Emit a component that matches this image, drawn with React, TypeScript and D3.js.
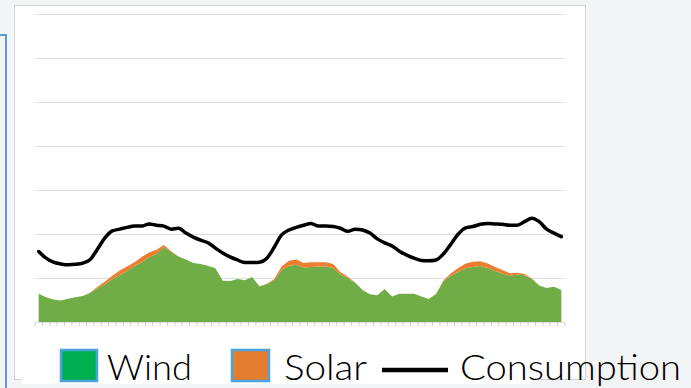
import React from "react";
import * as d3 from "d3";

const consumption = [16.0,14.5,13.6,13.2,13.0,13.1,13.4,14.2,16.6,19.1,20.7,21.1,21.5,21.8,21.8,22.3,22.0,21.8,21.1,21.3,20.2,19.3,18.6,18.0,16.8,15.7,14.8,14.1,13.5,13.5,13.6,14.5,17.0,19.8,20.9,21.5,22.0,22.4,21.8,21.8,21.7,21.3,20.6,21.1,20.9,20.2,18.9,18.0,17.3,16.1,15.2,14.5,14.0,13.9,14.1,15.5,17.7,20.0,21.4,21.7,22.2,22.4,22.3,22.2,22.0,22.0,22.8,23.6,22.8,21.1,20.2,19.4];
const wind = [6.4,5.6,5.1,4.9,5.3,5.6,5.9,6.6,7.7,8.6,9.7,10.7,11.6,12.7,13.6,14.7,15.5,17.0,15.9,14.9,14.2,13.4,13.2,12.8,12.2,9.4,9.3,9.8,9.5,10.2,8.1,8.6,9.5,11.8,12.8,13.0,12.4,12.5,12.6,12.6,12.3,10.8,10.0,8.9,7.3,6.3,6.1,7.5,5.8,6.4,6.4,6.4,5.8,5.2,6.4,9.3,10.5,11.4,12.2,12.5,12.7,12.3,11.6,11.0,10.5,10.8,10.6,9.8,8.3,7.7,8.0,7.3];
const solar = [0,0,0,0,0,0,0,0.1,0.3,0.6,0.8,1.0,1.0,0.9,1.2,1.1,0.9,0.5,0.2,0,0,0,0,0,0,0,0,0,0,0,0,0.1,0.3,0.8,1.1,1.2,1.0,1.1,1.0,1.0,0.9,0.5,0.3,0.1,0,0,0,0,0,0,0,0,0,0,0,0.2,0.6,0.9,1.1,1.2,1.1,1.0,0.9,0.8,0.6,0.4,0.3,0.1,0,0,0,0];
const yTicks = [0,10,20,30,40,50,60,70];
const legendLabels = ["Wind", "Solar", "Consumption"];

export default function App() {
  const W = 691, H = 388;
  const idx = consumption.map((_, i) => i);
  const x = d3.scaleBand<number>().domain(idx).range([35, 565]).padding(0);
  const bw = x.bandwidth();
  const cx = (i: number) => (x(i) as number) + bw / 2;
  const y = d3.scaleLinear().domain([0, 70]).range([322, 14]);

  const rows = idx.map(i => ({ i, wind: wind[i], solar: solar[i] }));
  const stack = d3.stack<any>().keys(["wind", "solar"])(rows);
  const area = d3.area<any>()
    .x((d: any) => cx(d.data.i))
    .y0((d: any) => y(d[0]))
    .y1((d: any) => y(d[1]))
    .curve(d3.curveLinear);
  const line = d3.line<number>()
    .x((_, i) => cx(i))
    .y(d => y(d))
    .curve(d3.curveMonotoneX);

  const tickXs = d3.range(idx.length + 1).map(i => 35 + i * bw);
  const areaColors = ["#70ad47", "#ed7d31"];

  return (
    <svg width={W} height={H} style={{ position: "absolute", left: 0, top: 0, display: "block" }}>
      <rect x={0} y={0} width={W} height={H} fill="#f3f4f6" />
      <path d="M0,35 H6 V388" fill="none" stroke="#5b9bd5" strokeWidth={2} />
      <rect x={14.5} y={5.5} width={571} height={374} fill="#ffffff" stroke="#d4d4d4" strokeWidth={1} />
      {yTicks.map(t => (
        <line key={t} x1={35} x2={565} y1={Math.round(y(t)) + 0.5} y2={Math.round(y(t)) + 0.5} stroke="#dedede" strokeWidth={1} />
      ))}
      {tickXs.map((tx, i) => (
        <line key={i} x1={tx} x2={tx} y1={322.5} y2={326} stroke="#d0d0d0" strokeWidth={1} />
      ))}
      {stack.map((s, k) => (
        <path key={k} d={area(s as any) || ""} fill={areaColors[k]} />
      ))}
      <path d={line(consumption) || ""} fill="none" stroke="#000000" strokeWidth={3.5} strokeLinejoin="round" strokeLinecap="round" />
      <rect x={22} y={338} width={508} height={46} fill="#ffffff" />
      <g fontFamily="Lato, 'DejaVu Sans', sans-serif" fontWeight={300} fontSize={36} fill="#000">
        <rect x={61} y={350} width={36} height={31} fill="#00b050" stroke="#4aa3df" strokeWidth={2.5} />
        <text x={107} y={380} textLength={85} lengthAdjust="spacingAndGlyphs">{legendLabels[0]}</text>
        <rect x={232} y={350} width={37} height={31} fill="#e57e2c" stroke="#4aa3df" strokeWidth={2.5} />
        <text x={284} y={380} textLength={83} lengthAdjust="spacingAndGlyphs">{legendLabels[1]}</text>
        <line x1={382} x2={448} y1={370} y2={370} stroke="#000" strokeWidth={4.5} />
        <text x={460} y={380} textLength={221} lengthAdjust="spacingAndGlyphs">{legendLabels[2]}</text>
      </g>
    </svg>
  );
}
